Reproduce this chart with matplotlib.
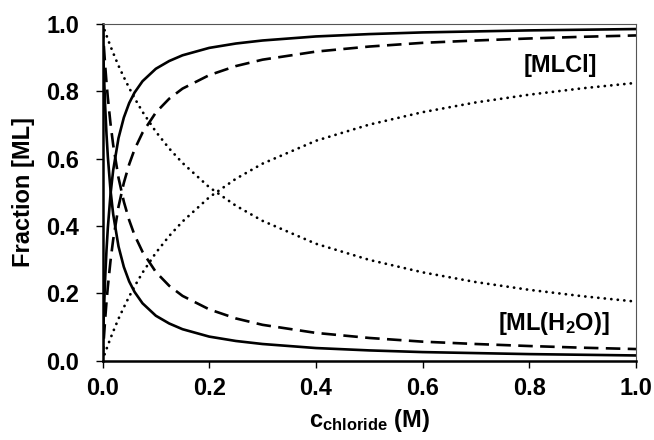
import matplotlib.pyplot as plt
from matplotlib import font_manager as fm

# find a bold Arial-like face
bold_file = None
for f in fm.fontManager.ttflist:
    if f.name == "Liberation Sans" and f.weight in (700, "bold") and f.style == "normal":
        bold_file = f.fname
if bold_file:
    fm.fontManager.addfont(bold_file)
plt.rcParams["font.family"] = ["Liberation Sans", "DejaVu Sans"]
plt.rcParams["font.weight"] = "bold"
plt.rcParams["mathtext.fontset"] = "custom"
plt.rcParams["mathtext.rm"] = "Liberation Sans:bold"
plt.rcParams["mathtext.bf"] = "Liberation Sans:bold"
plt.rcParams["mathtext.it"] = "Liberation Sans:bold"
plt.rcParams["mathtext.default"] = "bf"

# chloride concentration (M)
c = [0, 0.0025, 0.005, 0.0075, 0.01, 0.015, 0.02, 0.03, 0.04, 0.05, 0.06, 0.075, 0.1,
     0.125, 0.15, 0.2, 0.25, 0.3, 0.4, 0.5, 0.6, 0.7, 0.8, 0.9, 1.0]

# [MLCl] fractions
mlcl_solid = [0, 0.140, 0.245, 0.328, 0.394, 0.494, 0.565, 0.661, 0.722, 0.765, 0.796, 0.830, 0.867,
              0.890, 0.907, 0.929, 0.942, 0.951, 0.963, 0.970, 0.975, 0.978, 0.981, 0.983, 0.985]
mlcl_dash = [0, 0.065, 0.123, 0.174, 0.219, 0.296, 0.359, 0.457, 0.528, 0.583, 0.627, 0.677, 0.737,
             0.778, 0.808, 0.848, 0.875, 0.894, 0.918, 0.933, 0.944, 0.951, 0.957, 0.962, 0.966]
mlcl_dot = [0, 0.012, 0.023, 0.034, 0.045, 0.066, 0.086, 0.124, 0.158, 0.190, 0.220, 0.261, 0.320,
            0.370, 0.413, 0.485, 0.540, 0.585, 0.653, 0.701, 0.738, 0.767, 0.790, 0.809, 0.825]

# [ML(H2O)] fractions
mlw_solid = [1, 0.860, 0.755, 0.672, 0.606, 0.506, 0.435, 0.339, 0.278, 0.235, 0.204, 0.170, 0.133,
             0.110, 0.093, 0.071, 0.058, 0.049, 0.037, 0.030, 0.025, 0.022, 0.019, 0.017, 0.015]
mlw_dash = [1, 0.935, 0.877, 0.826, 0.781, 0.704, 0.641, 0.543, 0.472, 0.417, 0.373, 0.323, 0.263,
            0.222, 0.192, 0.152, 0.125, 0.106, 0.082, 0.067, 0.056, 0.049, 0.043, 0.038, 0.034]
mlw_dot = [1, 0.988, 0.977, 0.966, 0.955, 0.934, 0.914, 0.876, 0.842, 0.810, 0.780, 0.739, 0.680,
           0.630, 0.587, 0.515, 0.460, 0.415, 0.347, 0.299, 0.262, 0.233, 0.210, 0.191, 0.175]

fig = plt.figure(figsize=(6.54, 4.4), dpi=100)
ax = fig.add_axes([102.5 / 654, 1 - 360.5 / 440, 533.5 / 654, 336.5 / 440])

lw = 1.9
dot_style = dict(color="black", lw=2.0, linestyle=(0, (0.05, 2.3)), dash_capstyle="round")
ax.plot(c, mlcl_solid, color="black", lw=lw)
ax.plot(c, mlw_solid, color="black", lw=lw)
ax.plot(c, mlcl_dash, color="black", lw=lw, dashes=(5.5, 2.8))
ax.plot(c, mlw_dash, color="black", lw=lw, dashes=(5.5, 2.8))
ax.plot(c, mlcl_dot, **dot_style)
ax.plot(c, mlw_dot, **dot_style)

ax.set_xlim(0, 1.0)
ax.set_ylim(0, 1.0)
ticks = [0, 0.2, 0.4, 0.6, 0.8, 1.0]
labels = ["0.0", "0.2", "0.4", "0.6", "0.8", "1.0"]
ax.set_xticks(ticks)
ax.set_yticks(ticks)
ax.set_xticklabels(labels, fontweight="bold")
ax.set_yticklabels(labels, fontweight="bold")
ax.tick_params(labelsize=17, length=5, width=1, direction="out")
ax.tick_params(axis="y", pad=12)
ax.tick_params(axis="x", pad=7)

for s in ["left", "bottom"]:
    ax.spines[s].set_linewidth(1.8)
for s in ["top", "right"]:
    ax.spines[s].set_linewidth(0.8)
    ax.spines[s].set_color("#555555")

ax.set_ylabel("Fraction [ML]", fontsize=17, fontweight="bold", labelpad=8)
ax.set_xlabel(r"c$_{\mathbf{chloride}}$ (M)", fontsize=17, fontweight="bold", labelpad=5)

ax.text(0.927, 0.878, "[MLCl]", fontsize=17, fontweight="bold", ha="right", va="center")
ax.text(0.951, 0.111, r"[ML(H$_{\mathbf{2}}$O)]", fontsize=17, fontweight="bold", ha="right", va="center")

fig.savefig("out.png", dpi=100)
